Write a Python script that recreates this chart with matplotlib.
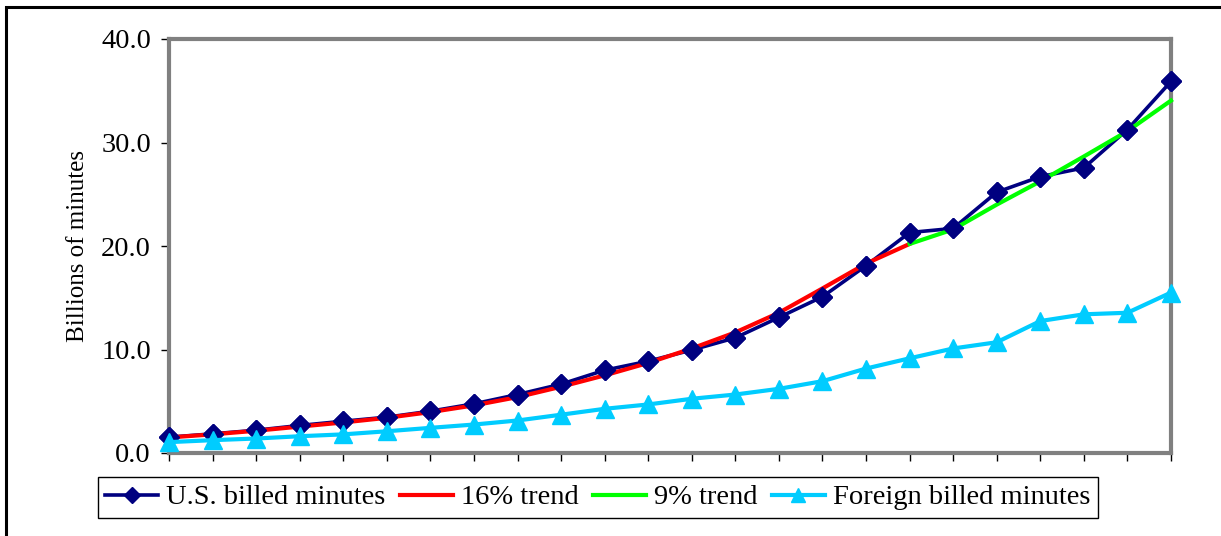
"""Billed minutes: U.S. vs foreign, with 16% and 9% growth trends."""

import matplotlib

matplotlib.use("Agg")
import matplotlib.pyplot as plt
from matplotlib.patches import Rectangle

plt.rcParams["font.family"] = ["Liberation Serif", "DejaVu Serif"]

# values (billions of minutes)
periods = list(range(24))
us_billed = [1.53, 1.85, 2.2, 2.66, 3.07, 3.46, 4.04, 4.75, 5.65, 6.65, 8.0, 8.87,
             9.95, 11.13, 13.1, 15.1, 18.1, 21.3, 21.7, 25.2, 26.7, 27.55, 31.25, 35.9]
trend16_periods = list(range(18))
trend16 = [1.5, 1.8, 2.15, 2.55, 2.95, 3.4, 3.95, 4.6, 5.4, 6.4, 7.5, 8.7,
           10.1, 11.65, 13.55, 15.9, 18.3, 20.2]
trend9_periods = list(range(17, 24))
trend9 = [20.2, 21.6, 24.0, 26.25, 28.65, 31.1, 34.05]
foreign_billed = [1.05, 1.24, 1.4, 1.62, 1.8, 2.1, 2.43, 2.75, 3.14, 3.7, 4.27, 4.69,
                  5.24, 5.65, 6.2, 6.94, 8.16, 9.15, 10.1, 10.7, 12.75, 13.4, 13.55, 15.5]
y_ticks = [0, 10, 20, 30, 40]

NAVY = "#000080"
RED = "#FF0000"
GREEN = "#00FF00"
CYAN = "#00CCFF"

fig = plt.figure(figsize=(12.21, 5.36), dpi=100)
ax = fig.add_axes([169 / 1221, 1 - 453 / 536, (1171 - 169) / 1221, (453 - 39) / 536])

# outer frame of the picture (right and bottom sides fall outside the image)
fig.patches.append(Rectangle((6 / 1221, -0.2), 1.2, 1.2 - 7 / 536, transform=fig.transFigure,
                             fill=False, edgecolor="black", linewidth=2.2, clip_on=False))

ax.plot(periods, us_billed, color=NAVY, linewidth=2.6, marker="D", markersize=9.8,
        label="U.S. billed minutes", zorder=3, clip_on=False)
ax.plot(trend16_periods, trend16, color=RED, linewidth=3, label="16% trend", zorder=4,
        clip_on=False)
ax.plot(trend9_periods, trend9, color=GREEN, linewidth=3, label="9% trend", zorder=4,
        clip_on=False)
ax.plot(periods, us_billed, linestyle="none", marker="D", markersize=9.8, color=NAVY,
        zorder=5, clip_on=False)
ax.plot(periods, foreign_billed, color=CYAN, linewidth=3, marker="^", markersize=13,
        label="Foreign billed minutes", zorder=6, clip_on=False)

ax.set_xlim(0, 23)
ax.set_ylim(0, 40)
ax.set_xticks(periods)
ax.set_xticklabels([])
ax.set_yticks(y_ticks)
ax.set_yticklabels([f"{v:.1f}" for v in y_ticks])
ax.tick_params(axis="both", direction="out", length=6, width=1, color="black",
               labelsize=20.5, pad=7)

for side in ["top", "right", "left", "bottom"]:
    ax.spines[side].set_color("#808080")
    ax.spines[side].set_linewidth(3)
ax.axvline(0, color="black", linewidth=1, zorder=2.5, clip_on=False)
ax.axhline(0, color="black", linewidth=1, zorder=2.5, clip_on=False)

ax.set_ylabel("Billions of minutes", fontsize=18, labelpad=9)

leg = fig.legend(loc="center", bbox_to_anchor=(598 / 1221, 1 - 497.5 / 536), ncol=4,
                 fontsize=20.5, frameon=True, fancybox=False, framealpha=1,
                 edgecolor="black", handlelength=1.85, handletextpad=0.3,
                 columnspacing=0.5, borderpad=0.25, markerscale=0.8, borderaxespad=0)
leg.get_frame().set_linewidth(1)

fig.savefig("out.png", dpi=100)
